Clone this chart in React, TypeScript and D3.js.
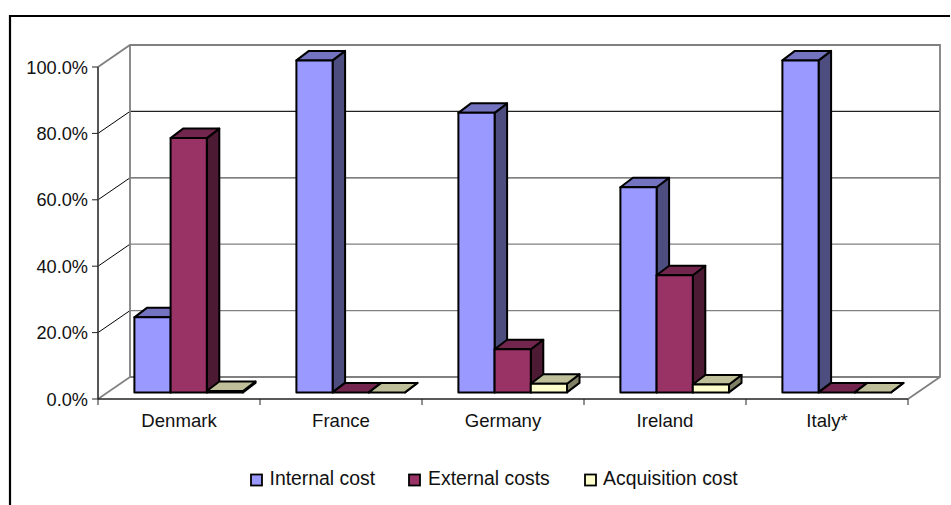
import React from 'react';
import * as d3 from 'd3';

const categories = ['Denmark', 'France', 'Germany', 'Ireland', 'Italy*'];
const internalCost = [22.6, 100, 84.2, 61.8, 100];
const externalCosts = [76.6, 0, 13, 35.3, 0];
const acquisitionCost = [0.4, 0, 2.6, 2.4, 0];
const seriesNames = ['Internal cost', 'External costs', 'Acquisition cost'];
const frontColors = ['#9999ff', '#993366', '#ffffcc'];
const sideColors = ['#4d4d80', '#4d1a33', '#808066'];
const topColors = ['#7373bf', '#73264d', '#bfbf99'];
const yTicks = [0, 20, 40, 60, 80, 100];
const gridColors = ['', '#808080', '#808080', '#555555', '#222222', ''];

const FONT = '"Liberation Sans", Arial, sans-serif';
const DX = 32;
const DY = -22;
const BAR_DX = 12.5;
const BAR_DY = -9.5;
const BAR_OFF_X = 9.7;
const BAR_OFF_Y = -6.6;

export default function App() {
  const x = d3.scaleBand<string>().domain(categories).range([98, 908]);
  const y = d3.scaleLinear().domain([0, 100]).range([399, 67]);
  const barW = 36.2;
  const series = [internalCost, externalCosts, acquisitionCost];
  const line = d3.line();
  const poly = (pts: [number, number][]) => line(pts) + 'Z';

  return (
    <svg width={951} height={505} style={{ position: 'absolute', left: 0, top: 0 }} fontFamily={FONT}>
      <rect x={0} y={0} width={951} height={505} fill="#fff" />
      <path d="M10 505V16H950" fill="none" stroke="#000" strokeWidth={2.2} />

      {/* walls */}
      {yTicks.slice(1, -1).map((t, i) => (
        <g key={t}>
          <line x1={98} x2={98 + DX} y1={y(t)} y2={y(t) + DY} stroke="#000" />
          <line x1={98 + DX} x2={908 + DX} y1={y(t) + DY} y2={y(t) + DY} stroke={gridColors[i + 1]} strokeWidth={1.3} />
        </g>
      ))}
      <path d={`M98 ${y(100)}L${98 + DX} ${y(100) + DY}H${908 + DX}V${y(0) + DY}L908 ${y(0)}`} fill="none" stroke="#808080" strokeWidth={1.8} />
      <path d={`M${98 + DX} ${y(100) + DY}V${y(0) + DY}H${908 + DX}`} fill="none" stroke="#808080" strokeWidth={1.8} />
      <line x1={98} x2={98 + DX} y1={y(0)} y2={y(0) + DY} stroke="#808080" strokeWidth={1.6} />

      {/* axes */}
      <line x1={98} x2={98} y1={y(100)} y2={y(0)} stroke="#444" strokeWidth={1.8} />
      <line x1={98} x2={908} y1={y(0)} y2={y(0)} stroke="#222" strokeWidth={1.6} />
      {yTicks.map(t => (
        <g key={t}>
          <line x1={92} x2={98} y1={y(t)} y2={y(t)} stroke="#222" />
          <text x={88} y={y(t) + 6.5} fontSize={18.2} textAnchor="end" fill="#111">{d3.format('.1f')(t)}%</text>
        </g>
      ))}
      {d3.range(6).map(i => {
        const tx = 98 + i * x.step();
        return <line key={i} x1={tx} x2={tx} y1={399} y2={405} stroke="#222" />;
      })}
      {categories.map(c => (
        <text key={c} x={(x(c) as number) + x.bandwidth() / 2} y={427} fontSize={18.6} textAnchor="middle" fill="#111">{c}</text>
      ))}

      {/* bars */}
      {categories.map((c, ci) => {
        const groupW = barW * 3;
        const x0 = (x(c) as number) + (x.bandwidth() - groupW) / 2 + BAR_OFF_X;
        return (
          <g key={c}>
            {series.map((vals, si) => {
              const l = x0 + si * barW;
              const r = l + barW;
              const b = y(0) + BAR_OFF_Y;
              const t = y(vals[ci]) + BAR_OFF_Y;
              return (
                <g key={si} stroke="#000" strokeWidth={2} strokeLinejoin="round">
                  <path d={poly([[r, t], [r + BAR_DX, t + BAR_DY], [r + BAR_DX, b + BAR_DY], [r, b]])} fill={sideColors[si]} />
                  <path d={poly([[l, t], [l + BAR_DX, t + BAR_DY], [r + BAR_DX, t + BAR_DY], [r, t]])} fill={topColors[si]} />
                  {vals[ci] > 0 && <rect x={l} y={t} width={barW} height={b - t} fill={frontColors[si]} />}
                </g>
              );
            })}
          </g>
        );
      })}

      {/* legend */}
      {seriesNames.map((n, i) => {
        const lx = [251, 409, 585][i];
        const tx = [269.5, 428, 603][i];
        return (
          <g key={n}>
            <rect x={lx} y={474.5} width={11} height={11} fill={frontColors[i]} stroke="#000" strokeWidth={1.8} />
            <text x={tx} y={485} fontSize={19.4} fill="#111">{n}</text>
          </g>
        );
      })}
    </svg>
  );
}
